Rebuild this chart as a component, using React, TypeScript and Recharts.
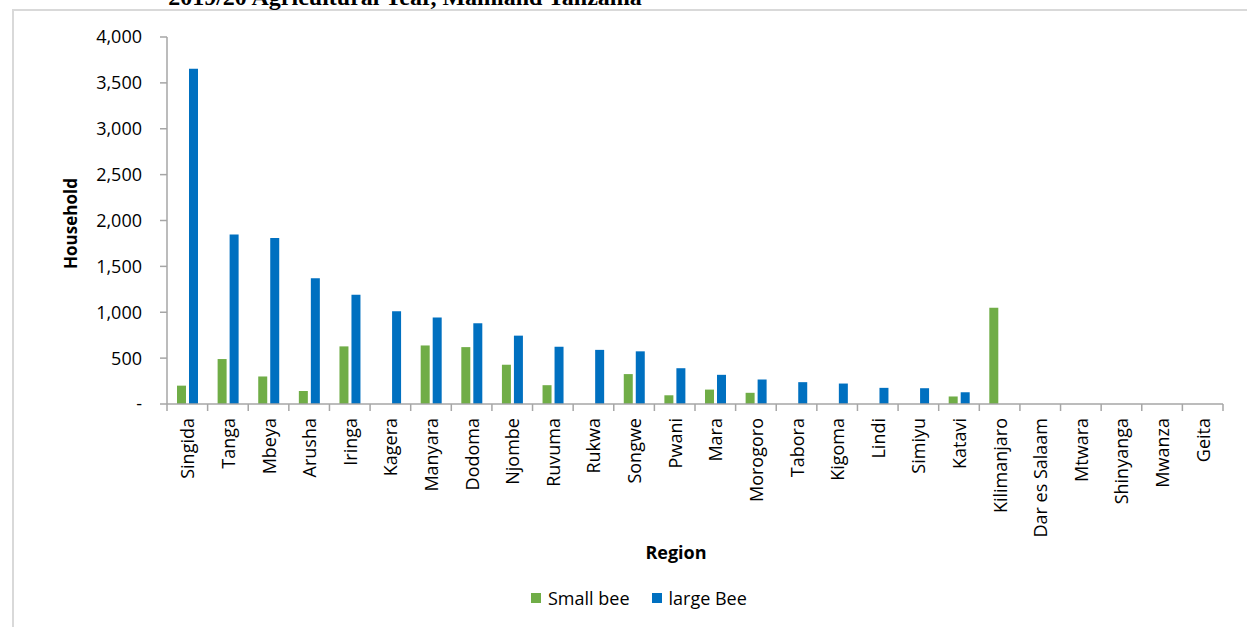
import { BarChart, Bar, XAxis, YAxis, Legend } from 'recharts';

const regions = [
  'Singida', 'Tanga', 'Mbeya', 'Arusha', 'Iringa', 'Kagera', 'Manyara', 'Dodoma', 'Njombe',
  'Ruvuma', 'Rukwa', 'Songwe', 'Pwani', 'Mara', 'Morogoro', 'Tabora', 'Kigoma', 'Lindi',
  'Simiyu', 'Katavi', 'Kilimanjaro', 'Dar es Salaam', 'Mtwara', 'Shinyanga', 'Mwanza', 'Geita',
];

const smallBee = [200, 490, 300, 142, 628, 0, 638, 620, 428, 205, 0, 326, 95, 157, 122, 0, 0, 0, 0, 82, 1050, 0, 0, 0, 0, 0];
const largeBee = [3655, 1848, 1808, 1370, 1190, 1010, 944, 880, 745, 624, 590, 574, 390, 318, 267, 238, 223, 176, 172, 128, 0, 0, 0, 0, 0, 0];

const yTicks = [0, 500, 1000, 1500, 2000, 2500, 3000, 3500, 4000];

const title = '2019/20 Agricultural Year, Mainland Tanzania';

const GREEN = '#70ad47';
const BLUE = '#0070c0';
const AXIS = '#a6a6a6';
const FONT = '"Open Sans", sans-serif';

const W = 1247;
const H = 627;
const PLOT_LEFT = 167;
const PLOT_RIGHT = 1223;
const BAND = (PLOT_RIGHT - PLOT_LEFT) / regions.length;

const data = regions.map((region, i) => ({
  region,
  small: smallBee[i],
  large: largeBee[i],
}));

function RegionTick(props: any) {
  const { x, y, payload, index } = props;
  const axisY = y - 14;
  const left = x - BAND / 2;
  return (
    <g>
      <line x1={left} y1={axisY} x2={left} y2={axisY + 7} stroke={AXIS} strokeWidth={1.5} />
      {index === regions.length - 1 && (
        <line x1={x + BAND / 2} y1={axisY} x2={x + BAND / 2} y2={axisY + 7} stroke={AXIS} strokeWidth={1.5} />
      )}
      <text
        x={x}
        y={y}
        transform={`rotate(-90, ${x}, ${y})`}
        textAnchor="end"
        dominantBaseline="central"
        fontSize={18}
        fontFamily={FONT}
        fill="#000"
      >
        {payload.value}
      </text>
    </g>
  );
}

function LegendBox() {
  const items = [
    { name: 'Small bee', color: GREEN },
    { name: 'large Bee', color: BLUE },
  ];
  return (
    <div style={{ display: 'flex', alignItems: 'center', fontFamily: FONT, fontSize: 18, color: '#000' }}>
      {items.map((it, i) => (
        <div key={it.name} style={{ display: 'flex', alignItems: 'center', marginRight: i === 0 ? 22 : 0 }}>
          <span style={{ width: 10, height: 10, background: it.color, display: 'inline-block', marginRight: 7 }} />
          <span>{it.name}</span>
        </div>
      ))}
    </div>
  );
}

export default function App() {
  return (
    <div style={{ position: 'absolute', left: 0, top: 0, width: W, height: H, overflow: 'hidden', background: '#fff' }}>
      <div
        style={{
          position: 'absolute',
          left: 12,
          top: 9,
          width: 1260,
          height: 700,
          borderLeft: '2px solid #d9d9d9',
          borderTop: '2px solid #d9d9d9',
        }}
      />
      <svg width={W} height={20} style={{ position: 'absolute', left: 0, top: 0 }}>
        <text x={405} y={5} textAnchor="middle" fontFamily='"Liberation Serif", serif' fontWeight="bold" fontSize={24} fill="#000">
          {title}
        </text>
      </svg>
      <div style={{ position: 'absolute', left: 0, top: 0 }}>
        <BarChart
          width={W}
          height={H}
          data={data}
          margin={{ top: 37, right: W - PLOT_RIGHT, left: 0, bottom: 43 }}
          barSize={9}
          barGap={3}
        >
          <XAxis
            dataKey="region"
            height={180}
            interval={0}
            axisLine={{ stroke: AXIS, strokeWidth: 1.5 }}
            tickLine={false}
            tickSize={0}
            tickMargin={14}
            tick={<RegionTick />}
            label={{
              content: ({ viewBox }: any) => (
                <text x={676} y={viewBox.y + 148} textAnchor="middle" dominantBaseline="central" fontFamily={FONT} fontWeight="bold" fontSize={18} fill="#000">
                  Region
                </text>
              ),
            }}
          />
          <YAxis
            width={PLOT_LEFT}
            domain={[0, 4000]}
            ticks={yTicks}
            interval={0}
            axisLine={{ stroke: AXIS, strokeWidth: 1.5 }}
            tickLine={{ stroke: AXIS, strokeWidth: 1.5 }}
            tickSize={7}
            tickMargin={18}
            tick={{ fontSize: 18, fontFamily: FONT, fill: '#000' }}
            tickFormatter={(v: number) => (v === 0 ? '-' : v.toLocaleString('en-US'))}
            label={{
              content: ({ viewBox }: any) => {
                const cx = 70;
                const cy = viewBox.y + viewBox.height / 2 + 3;
                return (
                  <text x={cx} y={cy} transform={`rotate(-90, ${cx}, ${cy})`} textAnchor="middle" dominantBaseline="central" fontFamily={FONT} fontWeight="bold" fontSize={17} fill="#000">
                    Household
                  </text>
                );
              },
            }}
          />
          <Legend
            layout="horizontal"
            verticalAlign="middle"
            align="center"
            wrapperStyle={{ left: 531, top: 586, width: 300 }}
            content={() => <LegendBox />}
          />
          <Bar dataKey="small" name="Small bee" fill={GREEN} isAnimationActive={false} />
          <Bar dataKey="large" name="large Bee" fill={BLUE} isAnimationActive={false} />
        </BarChart>
      </div>
    </div>
  );
}
